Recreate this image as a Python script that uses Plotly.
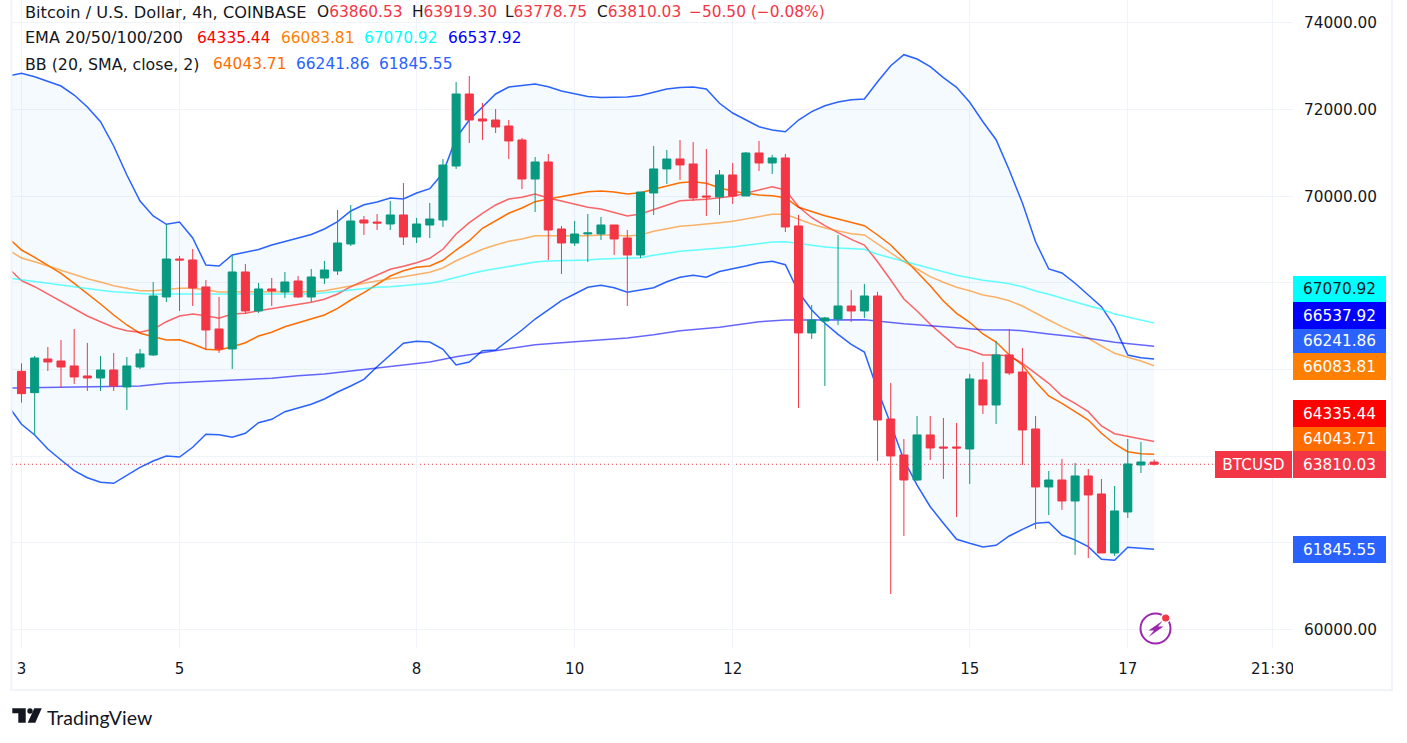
import plotly.graph_objects as go

W, H = 1407, 743
FONT = "DejaVu Sans"
INK = "#131722"
UP, DOWN = "#089981", "#f23645"
GRID = "#f0f3fa"

opens = [65956,65464,66241,66195,66080,65849,65803,65987,65595,66056,66334,67673,68550,68527,67904,66934,66472,68250,67350,67858,67788,68042,67672,68111,68273,68896,69450,69404,69358,69566,69058,69335,69450,70697,72360,71783,71759,71621,71298,70397,70790,69243,68919,69128,69128,69335,69035,68643,70074,70629,70859,70744,70005,69982,70490,70005,70998,70767,70883,69313,66842,67119,67165,67465,67350,67696,64856,64025,63447,64487,64209,64209,64163,65757,65179,66334,65941,64625,63286,63447,62962,63540,63124,61762,62709,63794,63860.53]
highs = [66141,66311,66518,66680,66934,66611,66311,66380,66287,66472,68019,69359,68620,68781,68065,67673,68643,68435,67996,68112,68250,68158,68319,68504,69681,69797,69543,69589,69889,70305,69497,69843,70859,72637,72775,72152,72013,71759,71344,70905,70974,69312,69427,69589,69520,69335,69220,70097,71160,71067,71298,71252,71090,70605,70767,71021,71275,70952,70975,69567,67488,67211,69105,67835,67973,67789,65687,64394,64925,64925,64879,64764,65895,66172,66657,66934,66495,64925,63655,63932,63840,63701,63470,63309,64394,64325,63919.30]
lows = [65233,64486,65964,65572,65664,65502,65502,65502,65064,66010,66311,67557,67350,67465,66449,66380,66010,67280,67303,67465,67650,67650,67557,67973,68180,68850,69104,69219,69219,68873,68919,69035,69289,70628,71228,71298,71459,70859,70166,69635,68527,68204,68850,68481,68989,68643,67465,68573,69566,70282,70375,69890,69543,69566,69820,70005,70582,70513,69174,65110,66703,65618,67027,67096,67188,63886,60815,62154,63424,63909,63471,62593,63355,64971,64741,65872,63794,62316,62639,62755,61716,61646,61762,61693,62570,63609,63778.75]
closes = [65441,66264,66172,66056,65826,65803,65987,65618,66080,66357,67696,68550,68527,67881,66911,66472,68250,67350,67858,67811,68019,67673,68134,68296,68919,69427,69381,69381,69566,69058,69358,69473,70720,72360,71759,71736,71598,71275,70397,70790,69219,68919,69127,69151,69335,69012,68643,70097,70629,70859,70721,69959,69982,70490,70005,70998,70767,70883,69289,66842,67142,67188,67465,67350,67696,64833,64002,63447,64487,64186,64186,64186,65780,65179,66334,65918,64602,63286,63447,62962,63540,63101,61762,62732,63817,63863,63810.03]

bb_upper = [72775,72837,72759,72660,72544,72336,72059,71720,71159,70489,69889,69543,69351,69404,69035,68411,68388,68642,68711,68769,68873,68954,69018,69115,69242,69411,69658,69803,69866,69958,69935,70074,70173,70535,71344,71759,72059,72360,72521,72551,72590,72528,72429,72366,72302,72279,72279,72290,72325,72406,72475,72510,72521,72475,72145,71921,71759,71605,71528,71489,71759,71951,72089,72175,72228,72244,72644,73013,73267,73168,72990,72736,72514,72168,71720,71304,70605,69843,68949,68319,68226,67989,67718,67448,66987,66333,66271,66241.86]
bb_lower = [65155,64733,64486,64163,63909,63662,63500,63394,63371,63546,63740,63886,64001,63978,64202,64502,64493,64433,64525,64770,64848,65024,65116,65195,65317,65479,65617,65772,66063,66333,66603,66650,66633,66465,66102,66171,66432,66449,66679,66910,67164,67372,67587,67742,67896,67942,67887,67781,67834,67887,68025,68127,68173,68130,68261,68319,68388,68464,68497,68418,67788,67372,67065,66811,66580,66402,65525,64740,63909,63331,62830,62447,62078,61985,61900,61939,62154,62308,62447,62470,62177,62062,61907,61616,61593,61893,61870,61845.55]
bb_basis = [69035,68757,68589,68411,68219,67989,67758,67511,67257,67026,66834,66756,66679,66686,66587,66465,66449,66525,66617,66772,66857,66986,67079,67164,67257,67411,67603,67772,67972,68157,68280,68358,68388,68520,68757,68972,69259,69434,69605,69727,69873,69935,69997,70051,70104,70120,70097,70051,70081,70159,70242,70312,70335,70298,70196,70113,70067,70027,70011,69965,69743,69642,69549,69473,69388,69318,69104,68873,68566,68257,67933,67580,67296,67088,66818,66633,66333,66102,65717,65386,65218,65024,64832,64525,64278,64100,64054,64043.71]
ema20 = [68342,68049,67910,67742,67564,67395,67234,67102,66973,66894,66857,66926,67102,67234,67280,67241,67180,67280,67296,67356,67402,67441,67488,67550,67619,67742,67910,68049,68180,68312,68381,68464,68566,68774,69127,69388,69605,69797,69935,69974,70051,69958,69889,69820,69743,69704,69628,69543,69589,69697,69803,69896,69912,69928,69965,69997,70067,70143,70219,70143,69757,69503,69319,69157,69004,68873,68487,68065,67626,67349,67042,66779,66518,66449,66333,66333,66317,66141,65910,65680,65386,65218,65024,64694,64516,64456,64394,64335.44]
ema50 = [68757,68573,68487,68388,68296,68196,68095,68019,67933,67873,67818,67818,67850,67873,67873,67841,67788,67788,67788,67804,67795,67788,67788,67795,67818,67864,67926,67988,68049,68095,68141,68196,68242,68342,68510,68642,68774,68873,68958,69011,69088,69088,69088,69081,69088,69104,69104,69081,69104,69189,69249,69305,69328,69351,69388,69420,69473,69526,69582,69582,69466,69358,69265,69203,69134,69104,68896,68681,68487,68319,68141,68012,67896,67818,67718,67665,67587,67464,67296,67141,66987,66857,66719,66541,66372,66280,66195,66083.81]
ema100 = [68111,68065,68026,67989,67949,67903,67857,67827,67795,67772,67742,67735,67742,67742,67742,67735,67725,67725,67725,67735,67742,67742,67735,67742,67772,67804,67834,67864,67896,67910,67933,67956,67989,68049,68134,68203,68273,68326,68381,68427,68480,68504,68511,68520,68527,68550,68557,68566,68580,68635,68688,68727,68750,68774,68797,68827,68866,68903,68942,68949,68903,68866,68827,68804,68781,68774,68658,68580,68504,68411,68335,68257,68173,68118,68058,68026,67980,67910,67811,67735,67642,67564,67471,67388,67280,67210,67141,67070.92]
ema200_bar = [-1,6,9,11,13,15,19,21,23,25,27,29,31,33,35,37,39,42,44,46,48,50,53,54,56,58,60,64,67,69,71,73,75,76,78,81,83,85,86]
ema200 = [65571,65601,65617,65680,65717,65740,65795,65855,65894,65964,66040,66109,66171,66294,66386,66488,66571,66640,66679,66726,66802,66894,66973,67019,67102,67141,67141,67148,67056,67010,66950,66917,66910,66894,66818,66719,66626,66571,66537.92]

time_tick_bars = [0,12,30,42,54,72,84,95]
time_tick_text = ["3","5","8","10","12","15","17","21:30"]
price_ticks = [60000,62000,64000,66000,68000,70000,72000,74000]
price_tick_text = ["60000.00","","","","","70000.00","72000.00","74000.00"]

bars = list(range(len(opens)))
line_bars = list(range(-1, len(opens)))
last_price = closes[-1]

def px(x): return x / W
def py(y): return 1 - y / H

fig = go.Figure()
def line(x, y, color, width=1.5, **kw):
    fig.add_trace(go.Scatter(x=x, y=y, mode="lines", line=dict(color=color, width=width, shape="linear"),
                             hoverinfo="skip", showlegend=False, **kw))

line(line_bars, bb_upper, "#2962ff")
line(line_bars, bb_lower, "#2962ff", fill="tonexty", fillcolor="rgba(33,150,243,0.05)")
line(line_bars, bb_basis, "#ff6d00")
line(line_bars, ema20, "rgba(255,0,0,0.6)")
line(line_bars, ema50, "rgba(255,128,0,0.6)")
line(line_bars, ema100, "rgba(0,255,255,0.6)")
line(ema200_bar, ema200, "rgba(0,0,255,0.6)")

fig.add_trace(go.Candlestick(
    x=bars, open=opens, high=highs, low=lows, close=closes,
    xaxis="x2", yaxis="y2", showlegend=False, whiskerwidth=0,
    increasing=dict(line=dict(color=UP, width=1), fillcolor=UP),
    decreasing=dict(line=dict(color=DOWN, width=1), fillcolor=DOWN),
))

XR = [(12 - 21.5) / 13.17, (1293 - 21.5) / 13.17]
YR = [74530 - 23.09 * 648, 74530]
XD = [px(12), px(1293)]
YD = [py(648), 1]

shapes = []
shapes.append(dict(type="line", xref="paper", yref="y", x0=px(12), x1=px(1215), y0=last_price, y1=last_price,
                   line=dict(color=DOWN, width=1, dash="1px,3px"), layer="below"))
for x0, y0, x1, y1 in [(10.5, 0, 12.5, 691), (10.5, 689, 1393, 691), (1391, 0, 1393, 691)]:
    shapes.append(dict(type="rect", xref="paper", yref="paper", x0=px(x0), x1=px(x1), y0=py(y0), y1=py(y1),
                       fillcolor=GRID, line=dict(width=0), layer="above"))
shapes.append(dict(type="rect", xref="paper", yref="paper", x0=px(1293), x1=px(1304), y0=py(655), y1=py(685),
                   fillcolor="white", line=dict(width=0), layer="above"))

def poly(points, color):
    d = "M " + " L ".join(f"{px(x):.5f},{py(y):.5f}" for x, y in points) + " Z"
    return dict(type="path", xref="paper", yref="paper", path=d, fillcolor=color, line=dict(width=0), layer="above")

def circle(cx, cy, r, fill=None, stroke=None, w=0):
    return dict(type="circle", xref="paper", yref="paper", x0=px(cx - r), x1=px(cx + r), y0=py(cy - r), y1=py(cy + r),
                fillcolor=fill or "rgba(0,0,0,0)", line=dict(color=stroke or "rgba(0,0,0,0)", width=w), layer="above")

shapes.append(circle(1155.5, 628.5, 15, stroke="#9c27b0", w=2))
shapes.append(poly([(1163, 620.5), (1148.5, 630.5), (1154, 630.5), (1148.5, 637), (1163.5, 626.5), (1158, 626.5)], "#9c27b0"))
shapes.append(circle(1165.7, 618, 5, fill="white"))
shapes.append(circle(1165.7, 618, 3.6, fill="#f23645"))
shapes.append(poly([(12.3, 708.3), (25.7, 708.3), (25.7, 722.7), (18.3, 722.7), (18.3, 713.3), (12.3, 713.3)], INK))
shapes.append(circle(30, 711, 2.7, fill=INK))
shapes.append(poly([(34.3, 708.3), (41.7, 708.3), (35.3, 722.7), (27.7, 722.7)], INK))

ann = []
def txt(x, y, text, size=15.4, color=INK, font=FONT, anchor="left"):
    ann.append(dict(xref="paper", yref="paper", x=px(x), y=py(y), text=text, showarrow=False, xanchor=anchor,
                    yanchor="middle", align="left", font=dict(family=font, size=size, color=color)))

def span(t, c): return f'<span style="color:{c}">{t}</span>'

txt(23, 12, "Bitcoin / U.S. Dollar, 4h, COINBASE", size=16.2)
for x, lab, val in [(315, "O", "63860.53"), (410, "H", "63919.30"), (503, "L", "63778.75"), (595, "C", "63810.03")]:
    txt(x, 12, lab + span(val, DOWN))
txt(687, 12, span("−50.50 (−0.08%)", DOWN))
txt(23, 38, "EMA 20/50/100/200", size=16)
for x, val, c in [(195, "64335.44", "#ff0000"), (279, "66083.81", "#ff7f00"), (362, "67070.92", "#00ffff"), (446, "66537.92", "#0000ff")]:
    txt(x, 38, span(val, c))
txt(23, 64, "BB (20, SMA, close, 2)", size=15.8)
for x, val, c in [(211, "64043.71", "#ff6d00"), (294, "66241.86", "#2962ff"), (377, "61845.55", "#2962ff")]:
    txt(x, 64, span(val, c))
txt(45, 717.5, "TradingView", size=19.5, font="Lato")

def badge(x, top, w, h, text, bg, fg="white"):
    ann.append(dict(xref="paper", yref="paper", x=px(x), y=py(top), xanchor="left", yanchor="top", width=w, height=h,
                    text=text, showarrow=False, bgcolor=bg, borderpad=0, borderwidth=0, valign="middle", align="center",
                    font=dict(family=FONT, size=15.3, color=fg)))

badge(1293, 276, 93, 26, "67070.92", "#00ffff", "#131722")
badge(1293, 302, 93, 27, "66537.92", "#0000ff")
badge(1293, 329, 93, 24, "66241.86", "#2962ff")
badge(1293, 353, 93, 27, "66083.81", "#ff7f00")
badge(1293, 400, 93, 27, "64335.44", "#ff0000")
badge(1293, 427, 93, 24, "64043.71", "#ff6d00")
badge(1293, 451, 93, 27, "63810.03", DOWN)
badge(1215, 451, 77, 27, "BTCUSD", DOWN)
badge(1293, 536, 93, 27, "61845.55", "#2962ff")

fig.update_layout(
    width=W, height=H, autosize=False, margin=dict(l=0, r=0, t=0, b=0, pad=0),
    paper_bgcolor="white", plot_bgcolor="white", showlegend=False, boxgap=0.15, boxgroupgap=0.28, hovermode=False,
    font=dict(family=FONT, color=INK, size=15),
    xaxis=dict(domain=XD, range=XR, tickmode="array", tickvals=time_tick_bars, ticktext=time_tick_text,
               showgrid=True, gridcolor=GRID, gridwidth=1, zeroline=False, showline=False, ticks="",
               ticklabelstandoff=10, tickfont=dict(family=FONT, size=15, color=INK), anchor="y"),
    yaxis=dict(domain=YD, range=YR, side="right", tickmode="array", tickvals=price_ticks, ticktext=price_tick_text,
               showgrid=True, gridcolor=GRID, gridwidth=1, zeroline=False, showline=False, ticks="",
               ticklabelstandoff=10, tickfont=dict(family=FONT, size=15.3, color=INK), anchor="x"),
    xaxis2=dict(domain=XD, range=XR, overlaying="x", anchor="y2", visible=False, showgrid=False,
                rangeslider=dict(visible=False)),
    yaxis2=dict(domain=YD, range=YR, overlaying="y", anchor="x2", visible=False, showgrid=False),
    shapes=shapes, annotations=ann,
)

fig.write_html("out.html", config=dict(displayModeBar=False),
               post_script="document.body.style.margin='0';document.body.style.overflow='hidden';")
